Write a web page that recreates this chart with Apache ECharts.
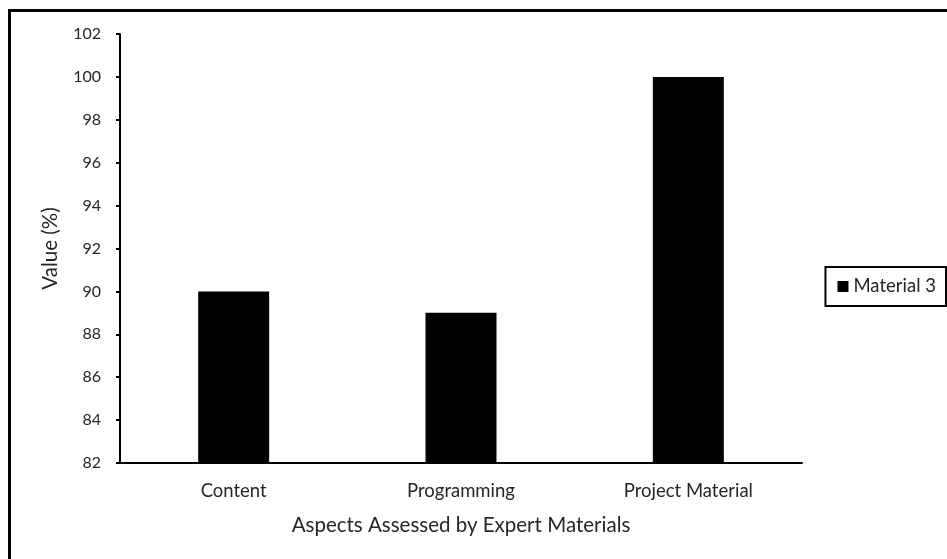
<!DOCTYPE html>
<html>
<head>
<meta charset="utf-8">
<script src="https://cdn.jsdelivr.net/npm/echarts@6/dist/echarts.min.js"></script>
<style>
    html, body { margin: 0; padding: 0; background: #fff; }
    #main { width: 947px; height: 559px; }
</style>
</head>
<body>
<div id="main"></div>
<script>
    // 数据
    var categories = ['Content', 'Programming', 'Project Material'];
    var material3 = [90, 89, 100];
    var yTicks = { min: 82, max: 102, step: 2 };

    var chart = echarts.init(document.getElementById('main'));
    var font = 'Lato';
    var txt = '#262626';

    var option = {
        backgroundColor: '#fff',
        textStyle: { fontFamily: font },
        animation: false,
        // 外框
        graphic: [{
            type: 'rect',
            shape: { x: 9.5, y: 10.5, width: 1000, height: 1000 },
            style: { fill: 'none', stroke: '#000', lineWidth: 3 }
        }],
        legend: {
            data: ['Material 3'],
            right: 1,
            top: 267,
            orient: 'vertical',
            icon: 'rect',
            itemWidth: 11,
            itemHeight: 11,
            itemGap: 4,
            padding: [10, 10, 10, 12],
            borderColor: '#000',
            borderWidth: 2,
            textStyle: { fontFamily: font, fontSize: 18.5, color: txt }
        },
        grid: { left: 120, right: 145, top: 34, bottom: 96 },
        xAxis: {
            type: 'category',
            data: categories,
            name: 'Aspects Assessed by Expert Materials',
            nameLocation: 'middle',
            nameGap: 52,
            nameTextStyle: { fontFamily: font, fontSize: 20.5, color: txt },
            axisLine: { lineStyle: { color: '#000', width: 2 } },
            axisTick: { length: 4, lineStyle: { color: '#000', width: 2 } },
            axisLabel: { fontFamily: font, fontSize: 18.5, color: txt, margin: 19 }
        },
        yAxis: {
            type: 'value',
            min: yTicks.min,
            max: yTicks.max,
            interval: yTicks.step,
            name: 'Value (%)',
            nameLocation: 'middle',
            nameGap: 59,
            nameTextStyle: { fontFamily: font, fontSize: 20.5, color: txt },
            axisLine: { show: true, lineStyle: { color: '#000', width: 2 } },
            axisTick: { show: true, length: 4, lineStyle: { color: '#000', width: 2 } },
            axisLabel: { fontFamily: font, fontSize: 16, color: txt, margin: 19 },
            splitLine: { show: false }
        },
        series: [{
            name: 'Material 3',
            type: 'bar',
            data: material3,
            barWidth: 71,
            itemStyle: { color: '#000' }
        }]
    };

    chart.setOption(option);
</script>
</body>
</html>
